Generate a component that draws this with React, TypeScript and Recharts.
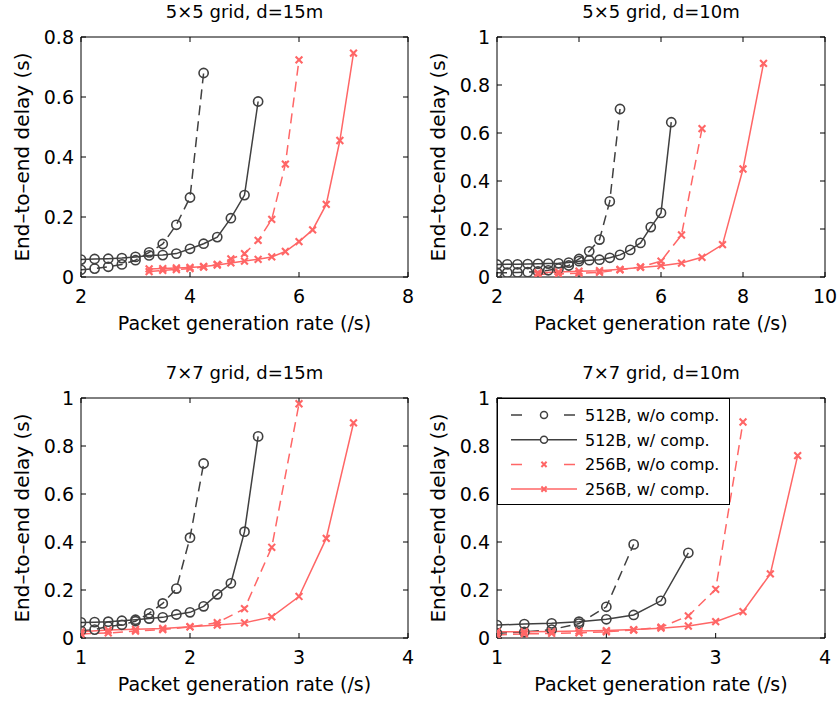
import { Line, LineChart, XAxis, YAxis } from "recharts";

const FONT = "'DejaVu Sans', sans-serif";
const DARK = "#404040";
const RED = "#ff6666";

// 5x5 grid, d=15m
const rateA512 = [2, 2.25, 2.5, 2.75, 3, 3.25, 3.5, 3.75, 4, 4.25, 4.5, 4.75, 5, 5.25];
const delayA512wo = [0.024, 0.028, 0.034, 0.042, 0.056, 0.082, 0.11, 0.174, 0.265, 0.68];
const delayA512w = [0.058, 0.06, 0.061, 0.063, 0.067, 0.072, 0.073, 0.078, 0.094, 0.111, 0.133, 0.196, 0.273, 0.585];
const rateA256 = [3.25, 3.5, 3.75, 4, 4.25, 4.5, 4.75, 5, 5.25, 5.5, 5.75, 6, 6.25, 6.5, 6.75, 7];
const delayA256wo = [0.018, 0.022, 0.025, 0.028, 0.033, 0.042, 0.06, 0.078, 0.122, 0.192, 0.376, 0.724];
const delayA256w = [0.027, 0.028, 0.03, 0.032, 0.035, 0.04, 0.047, 0.053, 0.059, 0.067, 0.085, 0.118, 0.157, 0.242, 0.455, 0.746];

// 5x5 grid, d=10m
const rateB512 = [2, 2.25, 2.5, 2.75, 3, 3.25, 3.5, 3.75, 4, 4.25, 4.5, 4.75, 5, 5.25, 5.5, 5.75, 6, 6.25];
const delayB512wo = [0.018, 0.018, 0.019, 0.02, 0.023, 0.028, 0.035, 0.048, 0.075, 0.107, 0.156, 0.315, 0.7];
const delayB512w = [0.052, 0.053, 0.053, 0.054, 0.055, 0.056, 0.057, 0.06, 0.066, 0.07, 0.072, 0.08, 0.092, 0.113, 0.142, 0.208, 0.267, 0.645];
const rateB256 = [3, 3.5, 4, 4.5, 5, 5.5, 6, 6.5, 7, 7.5, 8, 8.5];
const delayB256wo = [0.011, 0.013, 0.016, 0.019, 0.03, 0.042, 0.066, 0.175, 0.618];
const delayB256w = [0.018, 0.021, 0.024, 0.026, 0.032, 0.04, 0.047, 0.058, 0.082, 0.135, 0.45, 0.89];

// 7x7 grid, d=15m
const rateC512 = [1, 1.125, 1.25, 1.375, 1.5, 1.625, 1.75, 1.875, 2, 2.125, 2.25, 2.375, 2.5, 2.625];
const delayC512wo = [0.03, 0.035, 0.048, 0.055, 0.07, 0.103, 0.144, 0.206, 0.418, 0.727];
const delayC512w = [0.065, 0.066, 0.068, 0.072, 0.076, 0.081, 0.086, 0.098, 0.107, 0.132, 0.182, 0.228, 0.443, 0.84];
const rateC256 = [1, 1.25, 1.5, 1.75, 2, 2.25, 2.5, 2.75, 3, 3.25, 3.5];
const delayC256wo = [0.017, 0.021, 0.029, 0.035, 0.046, 0.064, 0.122, 0.378, 0.976];
const delayC256w = [0.026, 0.033, 0.036, 0.04, 0.047, 0.054, 0.063, 0.088, 0.173, 0.415, 0.896];

// 7x7 grid, d=10m
const rateD512 = [1, 1.25, 1.5, 1.75, 2, 2.25, 2.5, 2.75];
const delayD512wo = [0.02, 0.025, 0.035, 0.06, 0.13, 0.39];
const delayD512w = [0.054, 0.058, 0.061, 0.068, 0.078, 0.096, 0.155, 0.355];
const rateD256 = [1, 1.25, 1.5, 1.75, 2, 2.25, 2.5, 2.75, 3, 3.25, 3.5, 3.75];
const delayD256wo = [0.0125, 0.017, 0.019, 0.021, 0.026, 0.033, 0.045, 0.092, 0.203, 0.9];
const delayD256w = [0.026, 0.026, 0.027, 0.029, 0.031, 0.035, 0.041, 0.05, 0.068, 0.11, 0.267, 0.76];

const SERIES_LABELS = ["512B, w/o comp.", "512B, w/ comp.", "256B, w/o comp.", "256B, w/ comp."];

const TICKS_0_8 = [0, 0.2, 0.4, 0.6, 0.8];
const TICKS_0_1 = [0, 0.2, 0.4, 0.6, 0.8, 1];

type Marker = "circle" | "cross";
type Series = {
  label: string;
  rate: number[];
  delay: number[];
  color: string;
  dashed: boolean;
  marker: Marker;
};

function makeSeries(
  rate512: number[],
  wo512: number[],
  w512: number[],
  rate256: number[],
  wo256: number[],
  w256: number[],
): Series[] {
  return [
    { label: SERIES_LABELS[0], rate: rate512, delay: wo512, color: DARK, dashed: true, marker: "circle" },
    { label: SERIES_LABELS[1], rate: rate512, delay: w512, color: DARK, dashed: false, marker: "circle" },
    { label: SERIES_LABELS[2], rate: rate256, delay: wo256, color: RED, dashed: true, marker: "cross" },
    { label: SERIES_LABELS[3], rate: rate256, delay: w256, color: RED, dashed: false, marker: "cross" },
  ];
}

function RingDot(props: any) {
  const { cx, cy, stroke, index } = props;
  if (cx == null || cy == null) return <g key={index} />;
  return <circle key={index} cx={cx} cy={cy} r={4.6} fill="none" stroke={stroke} strokeWidth={1.6} />;
}

function CrossDot(props: any) {
  const { cx, cy, stroke, index } = props;
  if (cx == null || cy == null) return <g key={index} />;
  const s = 3.4;
  return (
    <path
      key={index}
      d={`M${cx - s},${cy - s}L${cx + s},${cy + s}M${cx - s},${cy + s}L${cx + s},${cy - s}`}
      stroke={stroke}
      strokeWidth={2.1}
      fill="none"
    />
  );
}

type PlotBox = { left: number; top: number; w: number; h: number };

type PanelProps = {
  x: number;
  y: number;
  width: number;
  height: number;
  plot: PlotBox;
  title: string;
  xDomain: [number, number];
  xTicks: number[];
  yDomain: [number, number];
  yTicks: number[];
  series: Series[];
};

const TICK_STYLE = { fontSize: 19, fill: "#000", fontFamily: FONT };
const AXIS_LINE = { stroke: "#000", strokeWidth: 1 };

function Panel({ x, y, width, height, plot, xDomain, xTicks, yDomain, yTicks, series }: PanelProps) {
  const bottomH = height - plot.top - plot.h;
  const rightW = width - plot.left - plot.w;
  return (
    <div style={{ position: "absolute", left: x, top: y }}>
      <LineChart width={width} height={height} margin={{ top: 0, right: 0, bottom: 0, left: 0 }}>
        <XAxis
          xAxisId="bottom"
          type="number"
          dataKey="x"
          domain={xDomain}
          ticks={xTicks}
          height={bottomH}
          tickSize={-5}
          tickMargin={18}
          tick={TICK_STYLE}
          axisLine={AXIS_LINE}
          tickLine={AXIS_LINE}
          allowDataOverflow
        />
        <XAxis
          xAxisId="top"
          orientation="top"
          type="number"
          dataKey="x"
          domain={xDomain}
          ticks={xTicks}
          height={plot.top}
          tickSize={-5}
          tickFormatter={() => ""}
          axisLine={AXIS_LINE}
          tickLine={AXIS_LINE}
          allowDataOverflow
        />
        <YAxis
          yAxisId="left"
          type="number"
          domain={yDomain}
          ticks={yTicks}
          width={plot.left}
          tickSize={-5}
          tickMargin={12}
          tick={TICK_STYLE}
          axisLine={AXIS_LINE}
          tickLine={AXIS_LINE}
          allowDataOverflow
        />
        <YAxis
          yAxisId="right"
          orientation="right"
          type="number"
          domain={yDomain}
          ticks={yTicks}
          width={rightW}
          tickSize={-5}
          tickFormatter={() => ""}
          axisLine={AXIS_LINE}
          tickLine={AXIS_LINE}
          allowDataOverflow
        />
        {series.map((s) => (
          <Line
            key={s.label}
            xAxisId="bottom"
            yAxisId="left"
            type="linear"
            data={s.delay.map((d, i) => ({ x: s.rate[i], y: d }))}
            dataKey="y"
            stroke={s.color}
            strokeWidth={1.5}
            strokeDasharray={s.dashed ? "10 6" : undefined}
            dot={s.marker === "circle" ? RingDot : CrossDot}
            activeDot={false}
            isAnimationActive={false}
          />
        ))}
      </LineChart>
    </div>
  );
}

const PANELS: PanelProps[] = [
  {
    x: 0, y: 0, width: 420, height: 340,
    plot: { left: 81, top: 37, w: 327, h: 240 },
    title: "5×5 grid, d=15m",
    xDomain: [2, 8], xTicks: [2, 4, 6, 8],
    yDomain: [0, 0.8], yTicks: TICKS_0_8,
    series: makeSeries(rateA512, delayA512wo, delayA512w, rateA256, delayA256wo, delayA256w),
  },
  {
    x: 420, y: 0, width: 420, height: 340,
    plot: { left: 77, top: 37, w: 328, h: 240 },
    title: "5×5 grid, d=10m",
    xDomain: [2, 10], xTicks: [2, 4, 6, 8, 10],
    yDomain: [0, 1], yTicks: TICKS_0_1,
    series: makeSeries(rateB512, delayB512wo, delayB512w, rateB256, delayB256wo, delayB256w),
  },
  {
    x: 0, y: 340, width: 420, height: 362,
    plot: { left: 81, top: 58, w: 327, h: 240 },
    title: "7×7 grid, d=15m",
    xDomain: [1, 4], xTicks: [1, 2, 3, 4],
    yDomain: [0, 1], yTicks: TICKS_0_1,
    series: makeSeries(rateC512, delayC512wo, delayC512w, rateC256, delayC256wo, delayC256w),
  },
  {
    x: 420, y: 340, width: 420, height: 362,
    plot: { left: 77, top: 58, w: 328, h: 240 },
    title: "7×7 grid, d=10m",
    xDomain: [1, 4], xTicks: [1, 2, 3, 4],
    yDomain: [0, 1], yTicks: TICKS_0_1,
    series: makeSeries(rateD512, delayD512wo, delayD512w, rateD256, delayD256wo, delayD256w),
  },
];

function Legend({ x, y, series }: { x: number; y: number; series: Series[] }) {
  const rowH = 24.7;
  return (
    <g>
      <rect x={x + 0.5} y={y + 0.5} width={232} height={106} fill="#fff" stroke="#000" strokeWidth={1} />
      {series.map((s, i) => {
        const cy = y + 17 + i * rowH;
        const mx = x + 47;
        return (
          <g key={s.label}>
            <line
              x1={x + 14}
              x2={x + 80}
              y1={cy}
              y2={cy}
              stroke={s.color}
              strokeWidth={1.5}
              strokeDasharray={s.dashed ? "11 42" : undefined}
            />
            {s.marker === "circle" ? (
              <circle cx={mx} cy={cy} r={3.5} fill="#fff" stroke={s.color} strokeWidth={1.5} />
            ) : (
              <path
                d={`M${mx - 2.6},${cy - 2.6}L${mx + 2.6},${cy + 2.6}M${mx - 2.6},${cy + 2.6}L${mx + 2.6},${cy - 2.6}`}
                stroke={s.color}
                strokeWidth={2}
              />
            )}
            <text x={x + 88} y={cy + 6} fontSize={16} fontFamily={FONT} fill="#000">
              {s.label}
            </text>
          </g>
        );
      })}
    </g>
  );
}

export default function App() {
  return (
    <div
      style={{
        position: "absolute",
        left: 0,
        top: 0,
        width: 840,
        height: 702,
        background: "#fff",
        fontFamily: FONT,
      }}
    >
      {PANELS.map((p) => (
        <Panel key={p.title} {...p} />
      ))}
      <svg
        width={840}
        height={702}
        style={{ position: "absolute", left: 0, top: 0, pointerEvents: "none" }}
      >
        {PANELS.map((p) => {
          const cx = p.x + p.plot.left + p.plot.w / 2;
          const cy = p.y + p.plot.top + p.plot.h / 2;
          const bottom = p.y + p.plot.top + p.plot.h;
          return (
            <g key={p.title} fontFamily={FONT} fill="#000">
              <text x={cx} y={p.y + p.plot.top - 19} fontSize={18} textAnchor="middle">
                {p.title}
              </text>
              <text x={cx} y={bottom + 53} fontSize={19} textAnchor="middle">
                Packet generation rate (/s)
              </text>
              <text
                x={p.x + p.plot.left - 52}
                y={cy}
                fontSize={20}
                textAnchor="middle"
                transform={`rotate(-90 ${p.x + p.plot.left - 52} ${cy})`}
              >
                End–to–end delay (s)
              </text>
            </g>
          );
        })}
        <Legend x={497} y={398} series={PANELS[3].series} />
      </svg>
    </div>
  );
}
